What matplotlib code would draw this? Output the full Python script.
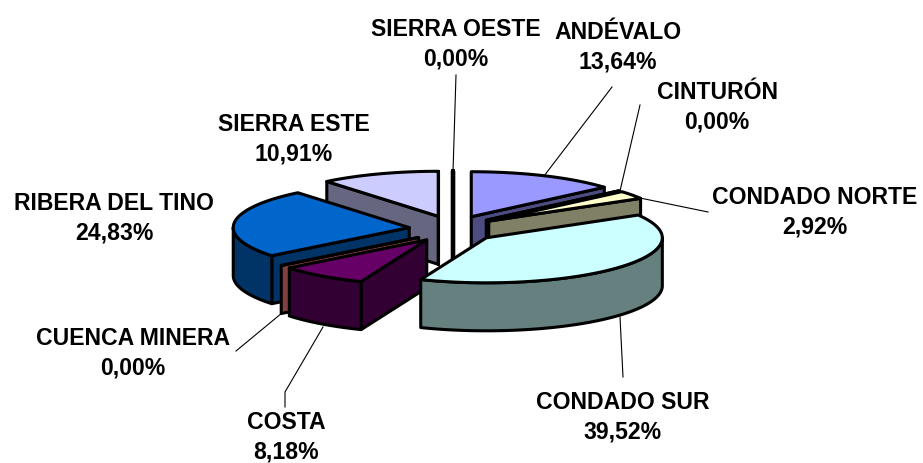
import matplotlib
matplotlib.use("Agg")
import matplotlib.pyplot as plt
from matplotlib.patches import Polygon
import numpy as np

names = ["ANDÉVALO", "CINTURÓN", "CONDADO NORTE", "CONDADO SUR", "COSTA",
         "CUENCA MINERA", "RIBERA DEL TINO", "SIERRA ESTE", "SIERRA OESTE"]
values = [13.64, 0.00, 2.92, 39.52, 8.18, 0.00, 24.83, 10.91, 0.00]
top_colors = ["#9999FF", "#993366", "#FFFFCC", "#CCFFFF", "#660066",
              "#FF8080", "#0066CC", "#CCCCFF", "#000080"]
side_colors = ["#4C4C80", "#4C1933", "#808066", "#668080", "#330033",
               "#804040", "#003366", "#666680", "#000040"]

# back to front
draw_order = [8, 7, 0, 1, 2, 6, 5, 4, 3]

label_xy = [(618, 47), (717, 107), (815, 212), (623, 417), (286, 437),
            (133, 353), (114, 218), (294, 139), (456, 44)]
leaders = [
    [(612, 88), (544, 177)],
    [(640, 106), (620, 192)],
    [(708, 213), (640, 199)],
    [(623, 378), (620, 318)],
    [(285, 408), (285, 393), (323, 328)],
    [(236, 352), (282, 314)],
    None,
    None,
    [(456, 76), (453, 173)],
]

cx, cy = 453, 230
rx, ry = 176, 45
ex, ey = 44, 13.5
depth = 48
lw = 2.2


def pt(x0, y0, ang):
    a = np.radians(ang)
    return x0 + rx * np.sin(a), y0 - ry * np.cos(a)


def arc(x0, y0, a0, a1):
    t = np.radians(np.linspace(a0, a1, 60))
    return np.column_stack([x0 + rx * np.sin(t), y0 - ry * np.cos(t)])


fig = plt.figure(figsize=(9.23, 4.64), dpi=100)
ax = fig.add_axes([0, 0, 1, 1])
ax.set_xlim(0, 923)
ax.set_ylim(464, 0)
ax.axis("off")


def face(pts, color, width=lw):
    ax.add_patch(Polygon(pts, closed=True, facecolor=color, edgecolor="black",
                         linewidth=width, joinstyle="round"))


edges = np.concatenate([[0], np.cumsum(values)]) * 3.6

for i in draw_order:
    a0, a1 = edges[i], edges[i + 1]
    mid = np.radians((a0 + a1) / 2)
    x0 = cx + ex * np.sin(mid)
    y0 = cy - ey * np.cos(mid)
    # flat cut faces
    for ang, normal in [(a0, a0 - 90), (a1, a1 + 90)]:
        if np.cos(np.radians(normal)) < 1e-6:
            x1, y1 = pt(x0, y0, ang)
            face([(x0, y0), (x1, y1), (x1, y1 + depth), (x0, y0 + depth)], side_colors[i],
                 width=lw + 0.8 if i == 8 else lw)
    # outer rim
    lo, hi = max(a0, 90), min(a1, 270)
    if hi > lo:
        rim = arc(x0, y0, lo, hi)
        face(np.vstack([rim, (rim + [0, depth])[::-1]]), side_colors[i])
    # top
    face(np.vstack([[(x0, y0)], arc(x0, y0, a0, a1)]), top_colors[i])

for i, name in enumerate(names):
    if leaders[i]:
        xs, ys = zip(*leaders[i])
        ax.plot(xs, ys, color="black", lw=0.8, zorder=0.5 if i == 3 else 3)
    label = name + "\n" + f"{values[i]:.2f}".replace(".", ",") + "%"
    ax.text(label_xy[i][0], label_xy[i][1], label, ha="center", va="center",
            fontsize=16.6, fontweight="bold", family="Liberation Sans", linespacing=1.38)

fig.savefig("out.png", dpi=100)
